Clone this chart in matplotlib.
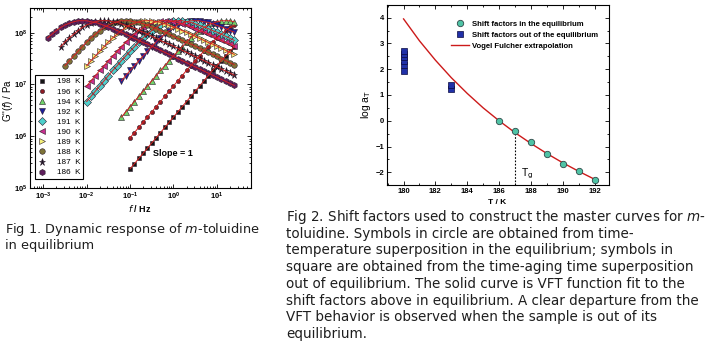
import numpy as np
import matplotlib
matplotlib.use('Agg')
import matplotlib.pyplot as plt
from matplotlib.ticker import LogLocator, MultipleLocator, NullFormatter

# ---- Fig 1: G''(f) sweeps of m-toluidine, log10 values ----
# frequency grid of the sweeps, log10(f / Hz)
log_freq = [-3.0, -2.9, -2.8, -2.7, -2.6, -2.5, -2.4, -2.3, -2.2, -2.1,
            -2.0, -1.9, -1.8, -1.7, -1.6, -1.5, -1.4, -1.3, -1.2, -1.1,
            -1.0, -0.9, -0.8, -0.7, -0.6, -0.5, -0.4, -0.3, -0.2, -0.1,
            0.0, 0.1, 0.2, 0.3, 0.4, 0.5, 0.6, 0.7, 0.8, 0.9,
            1.0, 1.1, 1.2, 1.3, 1.4]

temps = [198, 196, 194, 192, 191, 190, 189, 188, 187, 186]
first_logf = [-1.0, -1.0, -1.2, -1.2, -2.0, -2.0, -2.0, -2.5, -2.6, -2.9]

g2_198 = [5.37, 5.47, 5.57, 5.67, 5.77, 5.87, 5.97, 6.07, 6.17, 6.27, 6.37, 6.47, 6.57,
          6.67, 6.77, 6.87, 6.97, 7.07, 7.17, 7.27, 7.36, 7.46, 7.55, 7.64, 7.73]
g2_196 = [5.97, 6.07, 6.17, 6.27, 6.37, 6.47, 6.57, 6.67, 6.77, 6.87, 6.97, 7.07, 7.17,
          7.27, 7.36, 7.46, 7.55, 7.64, 7.73, 7.82, 7.90, 7.97, 8.04, 8.10, 8.15]
g2_194 = [6.37, 6.47, 6.57, 6.67, 6.77, 6.87, 6.97, 7.07, 7.17, 7.27, 7.36, 7.46, 7.55,
          7.64, 7.73, 7.82, 7.90, 7.97, 8.04, 8.10, 8.15, 8.18, 8.21, 8.23, 8.23, 8.23, 8.21]
g2_192 = [7.07, 7.17, 7.27, 7.36, 7.46, 7.55, 7.64, 7.73, 7.82, 7.90, 7.97, 8.04, 8.10,
          8.15, 8.18, 8.21, 8.23, 8.23, 8.23, 8.21, 8.20, 8.17, 8.14, 8.11, 8.08, 8.04, 8.01]
g2_191 = [6.67, 6.77, 6.87, 6.97, 7.07, 7.17, 7.27, 7.36, 7.46, 7.55, 7.64, 7.73, 7.82,
          7.90, 7.97, 8.04, 8.10, 8.15, 8.18, 8.21, 8.23, 8.23, 8.23, 8.21, 8.20, 8.17,
          8.14, 8.11, 8.08, 8.04, 8.01, 7.97, 7.93, 7.89, 7.85]
g2_190 = [6.97, 7.07, 7.17, 7.27, 7.36, 7.46, 7.55, 7.64, 7.73, 7.82, 7.90, 7.97, 8.04,
          8.10, 8.15, 8.18, 8.21, 8.23, 8.23, 8.23, 8.21, 8.20, 8.17, 8.14, 8.11, 8.08,
          8.04, 8.01, 7.97, 7.93, 7.89, 7.85, 7.81, 7.78, 7.74]
g2_189 = [7.36, 7.46, 7.55, 7.64, 7.73, 7.82, 7.90, 7.97, 8.04, 8.10, 8.15, 8.18, 8.21,
          8.23, 8.23, 8.23, 8.21, 8.20, 8.17, 8.14, 8.11, 8.08, 8.04, 8.01, 7.97, 7.93,
          7.89, 7.85, 7.81, 7.78, 7.74, 7.70, 7.66, 7.62, 7.58]
g2_188 = [7.36, 7.46, 7.55, 7.64, 7.73, 7.82, 7.90, 7.97, 8.04, 8.10, 8.15, 8.18, 8.21,
          8.23, 8.23, 8.23, 8.21, 8.20, 8.17, 8.14, 8.11, 8.08, 8.04, 8.01, 7.97, 7.93,
          7.89, 7.85, 7.81, 7.78, 7.74, 7.70, 7.66, 7.62, 7.58, 7.54, 7.50, 7.46, 7.42, 7.38]
g2_187 = [7.73, 7.82, 7.90, 7.97, 8.04, 8.10, 8.15, 8.18, 8.21, 8.23, 8.23, 8.23, 8.21,
          8.20, 8.17, 8.14, 8.11, 8.08, 8.04, 8.01, 7.97, 7.93, 7.89, 7.85, 7.81, 7.78,
          7.74, 7.70, 7.66, 7.62, 7.58, 7.54, 7.50, 7.46, 7.42, 7.38, 7.34, 7.30, 7.26,
          7.22, 7.18]
g2_186 = [7.90, 7.97, 8.04, 8.10, 8.15, 8.18, 8.21, 8.23, 8.23, 8.23, 8.21, 8.20, 8.17,
          8.14, 8.11, 8.08, 8.04, 8.01, 7.97, 7.93, 7.89, 7.85, 7.81, 7.78, 7.74, 7.70,
          7.66, 7.62, 7.58, 7.54, 7.50, 7.46, 7.42, 7.38, 7.34, 7.30, 7.26, 7.22, 7.18,
          7.14, 7.10, 7.06, 7.02, 6.98]
g2_all = [g2_198, g2_196, g2_194, g2_192, g2_191, g2_190, g2_189, g2_188, g2_187, g2_186]

markers = ['s', 'o', '^', 'v', 'D', '<', '>', 'o', '*', 'h']
fills = ['#141414', '#8e1c24', '#6fd36a', '#1b1f9c', '#4fd0cc', '#c8308f',
         '#f4f07a', '#7d7338', '#1c1424', '#5e1f5c']
sizes = [3.0, 3.0, 4.2, 4.2, 3.6, 4.2, 4.2, 4.0, 5.2, 4.4]

# ---- Fig 2: shift factors ----
eq_T = [186, 187, 188, 189, 190, 191, 192]
eq_log_aT = [0.0, -0.38, -0.83, -1.30, -1.66, -1.93, -2.29]
neq_T = [180, 180, 180, 180, 180, 180, 183, 183]
neq_log_aT = [1.95, 2.18, 2.32, 2.46, 2.60, 2.72, 1.25, 1.40]
vft_T = [180, 181, 182, 183, 184, 185, 186, 187, 188, 189, 190, 191, 192]
vft_log_aT = [3.95, 3.10, 2.35, 1.67, 1.06, 0.50, 0.0, -0.46, -0.88, -1.27, -1.63, -1.96, -2.27]
T_g = 187

cap1 = ["Fig 1. Dynamic response of $m$-toluidine",
        "in equilibrium"]
cap2 = ["Fig 2. Shift factors used to construct the master curves for $m$-",
        "toluidine. Symbols in circle are obtained from time-",
        "temperature superposition in the equilibrium; symbols in",
        "square are obtained from the time-aging time superposition",
        "out of equilibrium. The solid curve is VFT function fit to the",
        "shift factors above in equilibrium. A clear departure from the",
        "VFT behavior is observed when the sample is out of its",
        "equilibrium."]

narrow = ['Liberation Sans Narrow', 'Liberation Sans', 'DejaVu Sans']
W, H = 711, 341


def box(x0, y0, x1, y1):
    return [x0 / W, 1 - y1 / H, (x1 - x0) / W, (y1 - y0) / H]


def style_ticks(ax):
    ax.tick_params(which='both', direction='in', top=True, right=True,
                   width=0.6, labelsize=5.5, pad=2)
    ax.tick_params(which='major', length=3)
    ax.tick_params(which='minor', length=1.6)
    for lab in ax.get_xticklabels() + ax.get_yticklabels():
        lab.set_family(narrow)
        lab.set_fontweight('bold')
    for sp in ax.spines.values():
        sp.set_linewidth(0.8)


fig = plt.figure(figsize=(7.11, 3.41), dpi=100)

# left panel
ax1 = fig.add_axes(box(30, 8, 251, 188))
ax1.set_xscale('log')
ax1.set_yscale('log')
for T, first, vals, m, c, s in zip(temps, first_logf, g2_all, markers, fills, sizes):
    i0 = log_freq.index(first)
    f = 10 ** np.array(log_freq[i0:i0 + len(vals)])
    g = 10 ** np.array(vals)
    ax1.plot(f, g, linestyle='none', marker=m, ms=s, mfc=c, mec='#2a1a2a',
             mew=0.4, label=f'{T}  K', zorder=2)
    ax1.plot(f, g, color='#d42020', lw=0.7, zorder=3)

ax1.set_xlim(10 ** -3.306, 10 ** 1.786)
ax1.set_ylim(1e5, 10 ** 8.476)
ax1.xaxis.set_major_locator(LogLocator(base=10, numticks=10))
ax1.xaxis.set_minor_locator(LogLocator(base=10, subs=np.arange(2, 10), numticks=20))
ax1.yaxis.set_minor_locator(LogLocator(base=10, subs=np.arange(2, 10), numticks=20))
ax1.xaxis.set_minor_formatter(NullFormatter())
ax1.yaxis.set_minor_formatter(NullFormatter())
style_ticks(ax1)
ax1.text(10 ** -0.47, 10 ** 5.66, 'Slope = 1', family=narrow, fontweight='bold',
         fontsize=6.5, va='center', ha='left')

leg1 = ax1.legend(loc='lower left', bbox_to_anchor=(0.023, 0.048), borderaxespad=0,
                  frameon=True, fancybox=False, edgecolor='black', framealpha=1,
                  prop={'family': 'Liberation Sans', 'size': 5.9},
                  handlelength=1.0, handletextpad=1.3, labelspacing=0.29,
                  borderpad=0.35, markerscale=1.0)
leg1.get_frame().set_linewidth(0.8)

fig.text(140 / W, 1 - 209 / H, '$f$ / Hz', ha='center', va='center',
         fontsize=6.5, family=narrow, fontweight='bold')
fig.text(8 / W, 1 - 100 / H, "G''($f$) / Pa", ha='center', va='center',
         rotation=90, fontsize=7, family='Liberation Sans')

# right panel
ax2 = fig.add_axes(box(387, 5, 609, 185))
l_vft, = ax2.plot(vft_T, vft_log_aT, color='#cc1a1a', lw=1.0,
                  label='Vogel Fulcher extrapolation', zorder=2)
l_eq, = ax2.plot(eq_T, eq_log_aT, 'o', ms=4.6, mfc='#4fc3a5', mec='#2f4848',
                 mew=0.6, label='Shift factors in the equilibrium', zorder=3)
l_neq, = ax2.plot(neq_T, neq_log_aT, 's', ms=4.4, mfc='#2030a8', mec='#0a0a40',
                  mew=0.5, label='Shift factors out of the equilibrium', zorder=3)
ax2.vlines(T_g, -2.49, vft_log_aT[vft_T.index(T_g)], colors='black',
           linestyles=(0, (1.5, 1.5)), lw=0.8, zorder=1)
ax2.text(T_g + 0.35, -2.05, 'T$_\\mathrm{g}$', fontsize=7.5, family='Liberation Sans',
         va='center', ha='left')

ax2.set_xlim(178.96, 192.9)
ax2.set_ylim(-2.49, 4.49)
ax2.xaxis.set_major_locator(MultipleLocator(2))
ax2.xaxis.set_minor_locator(MultipleLocator(1))
ax2.yaxis.set_major_locator(MultipleLocator(1))
ax2.yaxis.set_minor_locator(MultipleLocator(0.5))
style_ticks(ax2)

leg2 = ax2.legend(handles=[l_eq, l_neq, l_vft], loc='upper left',
                  bbox_to_anchor=(0.29, 0.915), borderaxespad=0, frameon=False,
                  prop={'family': narrow, 'weight': 'bold', 'size': 5.6},
                  handlelength=2.3, handletextpad=0.35, labelspacing=0.45,
                  borderpad=0)

fig.text(497 / W, 1 - 202.5 / H, 'T / K', ha='center', va='center',
         fontsize=6, family=narrow, fontweight='bold')
fig.text(366 / W, 1 - 104 / H, 'log a$_\\mathrm{T}$', ha='center', va='center',
         rotation=90, fontsize=7.5, family='Liberation Sans')

# captions
for i, line in enumerate(cap1):
    fig.text(5 / W, 1 - (229 + 16 * i) / H, line, fontsize=9.3, color='#1e1e1e',
             va='center', ha='left', family='DejaVu Sans')
for i, line in enumerate(cap2):
    fig.text(286 / W, 1 - (217 + 16.7 * i) / H, line, fontsize=9.75, color='#1e1e1e',
             va='center', ha='left', family='DejaVu Sans')

fig.savefig('out.png', dpi=100)
